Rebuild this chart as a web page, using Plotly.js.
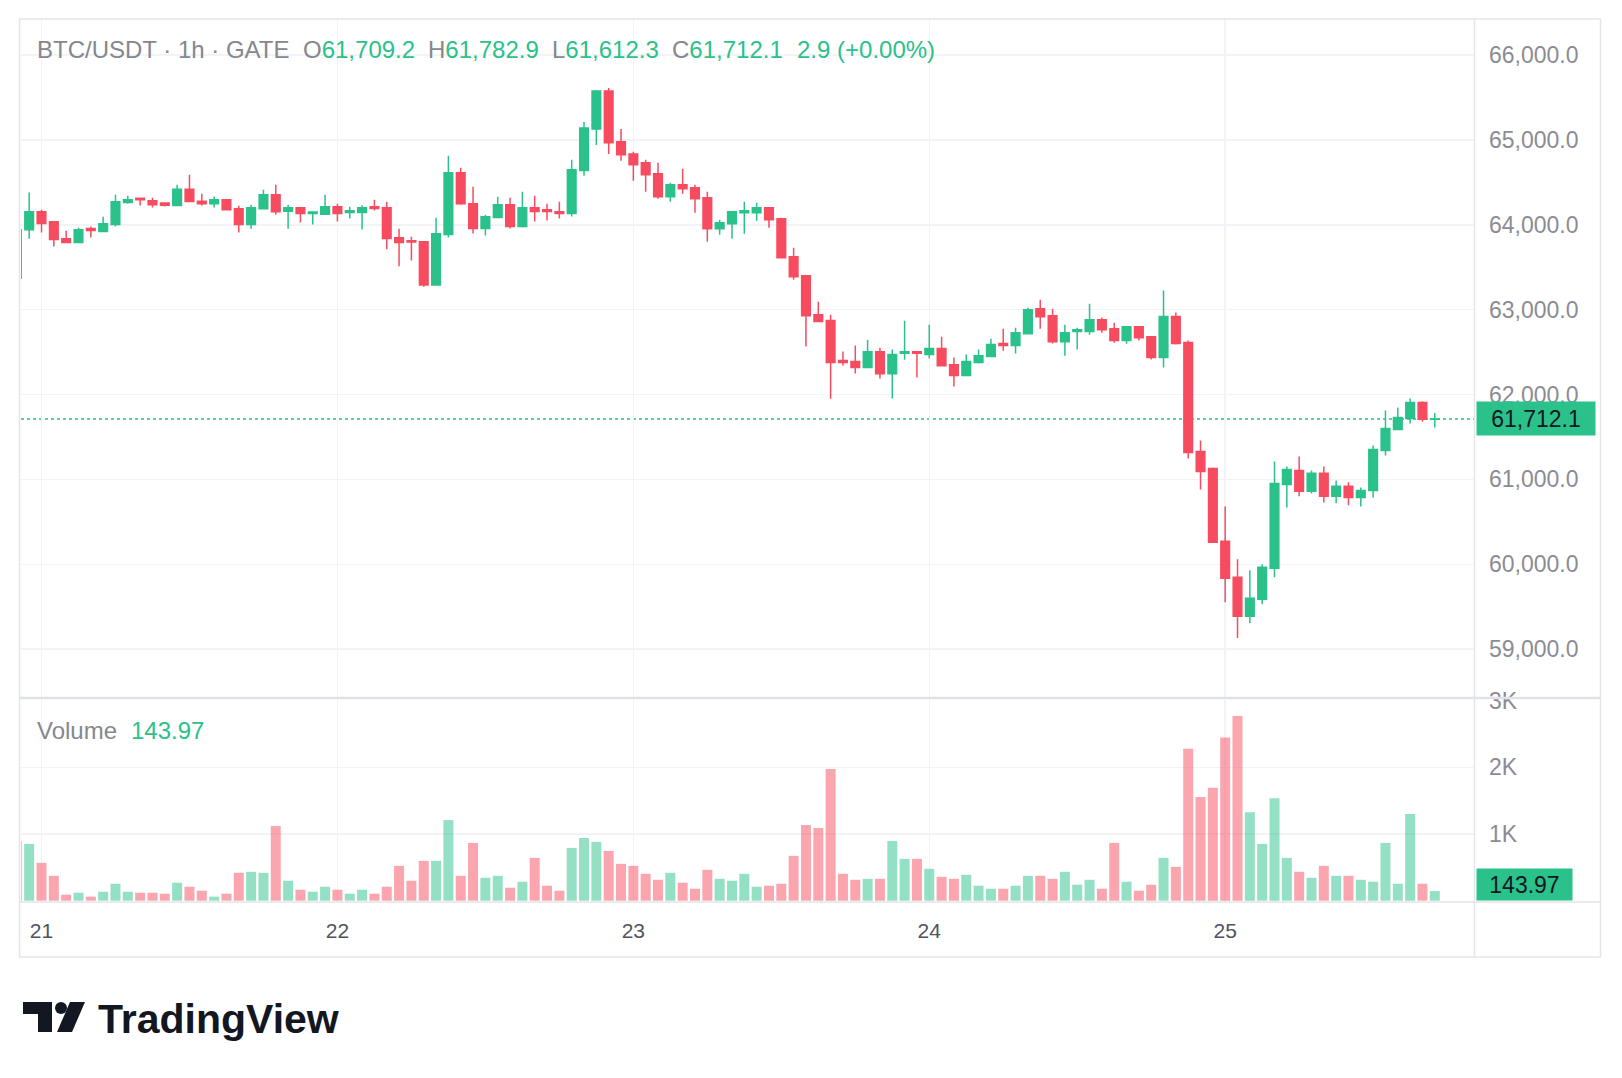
<!DOCTYPE html>
<html>
<head>
<meta charset="utf-8">
<script src="https://cdn.plot.ly/plotly-3.0.1.min.js"></script>
<style>
  html, body { margin: 0; padding: 0; background: #ffffff; }
  #chart { width: 1622px; height: 1078px; }
</style>
</head>
<body>
<div id="chart"></div>
<script>
// ---------- DATA ----------
// hourly candles, first one starts 20th 22:00
const startTime = '2024-06-20T22:00:00';
const opens = [63370,63940,64153,64035,63835,63792,63956,63921,64004,64262,64313,64282,64255,64227,64419,64278,64247,64294,64188,64004,64188,64353,64160,64200,64133,64125,64212,64145,64145,64212,64200,63847,63812,63800,63290,63886,64612,64247,63957,64086,64235,63980,64200,64176,64153,64133,64639,65129,65577,64977,64835,64729,64600,64329,64471,64435,64318,63953,64012,64141,64141,64200,64071,63624,63400,62941,62871,62400,62388,62317,62505,62246,62486,62505,62470,62541,62352,62223,62376,62447,62600,62576,62717,63011,62929,62623,62741,62741,62882,62776,62635,62799,62682,62435,62918,62612,61329,61129,60270,59847,59388,59588,59953,60941,61106,60859,61071,60800,60918,60788,60870,61341,61588,61718,61906,61709.2];
const highs = [63960,64380,64176,64035,63929,63964,63980,64094,64353,64341,64318,64317,64266,64470,64588,64364,64333,64298,64223,64235,64411,64470,64235,64205,64152,64353,64247,64212,64231,64294,64271,63953,63859,63805,64082,64812,64671,64447,64118,64329,64318,64388,64341,64247,64271,64765,65212,65588,65612,65129,64859,64765,64729,64494,64659,64471,64388,64059,64153,64271,64259,64200,64082,63729,63400,63094,62941,62506,62576,62646,62552,62529,62870,62505,62823,62682,62435,62470,62529,62658,62776,62788,63023,63117,63011,62823,62788,63070,62906,62846,62799,62805,62685,63224,62965,62635,61459,61141,60682,60059,59929,60000,61212,61153,61270,61106,61153,60988,60965,60906,61400,61812,61847,61953,61920,61782.9];
const lows = [63350,63835,63909,63745,63790,63790,63851,63915,63980,64247,64227,64204,64215,64225,64270,64227,64204,64176,63909,63953,64185,64121,63953,64027,64004,64114,64039,64074,63945,64169,63710,63510,63580,63270,63280,63851,64235,63898,63874,64080,63957,63969,64039,64051,64074,64098,64576,64941,64835,64753,64518,64388,64306,64271,64365,64141,63800,63882,63835,63894,64047,63965,63612,63353,62565,62859,61950,62341,62247,62317,62188,61952,62411,62199,62423,62329,62093,62223,62364,62447,62517,62482,62717,62776,62600,62458,62529,62705,62729,62611,62599,62635,62412,62318,62588,61247,60882,60259,59553,59130,59306,59529,59847,60670,60800,60835,60729,60718,60694,60682,60788,61282,61588,61659,61680,61612.3];
const closes = [63940,64153,64015,63827,63792,63941,63933,64011,64270,64294,64294,64235,64231,64419,64274,64247,64294,64176,64004,64200,64353,64153,64200,64133,64149,64212,64133,64165,64200,64192,63839,63792,63796,63290,63894,64612,64247,63957,64094,64235,63980,64200,64157,64157,64133,64647,65141,65577,64965,64824,64706,64588,64329,64471,64424,64306,63953,64023,64153,64165,64200,64059,63612,63388,62929,62859,62376,62376,62317,62505,62246,62470,62505,62486,62541,62340,62223,62388,62458,62588,62576,62729,62999,62917,62623,62729,62764,62882,62764,62635,62799,62670,62435,62918,62600,61318,61094,60259,59835,59388,59600,59964,60953,61118,60859,61071,60800,60918,60788,60870,61353,61600,61729,61906,61709,61712.1];
const volumes = [896,851,567,373,90,119,60,134,254,134,119,119,104,269,209,149,60,104,418,433,418,1119,299,164,134,209,164,104,164,104,209,522,299,597,597,1209,373,866,343,373,194,284,642,224,149,791,940,881,746,552,522,403,313,418,269,179,463,328,299,403,209,224,254,672,1134,1090,1975,403,313,328,328,896,627,627,478,358,328,388,224,179,179,224,373,373,328,433,239,313,179,866,284,149,239,642,507,2277,1554,1692,2446,2769,1328,851,1538,642,433,343,522,373,373,313,284,866,254,1299,254,143.97];

const dayTickTimes = ['2024-06-21T00:00:00','2024-06-22T00:00:00','2024-06-23T00:00:00','2024-06-24T00:00:00','2024-06-25T00:00:00'];
const dayTickText = ['21','22','23','24','25'];
const priceTicks = [59000,60000,61000,62000,63000,64000,65000,66000];
const priceTickText = ['59,000.0','60,000.0','61,000.0','62,000.0','63,000.0','64,000.0','65,000.0','66,000.0'];
const volTicks = [1000,2000,3000];
const volTickText = ['1K','2K','3K'];

const symbolText = 'BTC/USDT · 1h · GATE';
const ohlcLabels = ['O','H','L','C'];
const lastOHLC = ['61,709.2','61,782.9','61,612.3','61,712.1'];
const changeText = '2.9 (+0.00%)';
const volumeTitle = 'Volume';
const lastVolumeText = '143.97';
const lastPriceText = '61,712.1';

// ---------- STYLE ----------
const UP = '#2AC18A', DOWN = '#F74C60';
const UP_V = 'rgba(42,193,138,0.5)', DOWN_V = 'rgba(247,76,96,0.5)';
const GRID = '#F2F3F6', FRAME = '#E3E5EA';
const FONT = 'Liberation Sans, Arial, sans-serif';

// ---------- BUILD ----------
const HOUR = 3600000;
const t0 = new Date(startTime + 'Z').getTime();
function iso(ms){ return new Date(ms).toISOString().slice(0,19).replace('T',' '); }
const times = opens.map((_, k) => iso(t0 + k*HOUR));
const volColors = closes.map((c, k) => c >= opens[k] ? UP_V : DOWN_V);

const W = 1622, H = 1078;
const M = {l: 21, r: 148, t: 19, b: 176};
const PW = W - M.l - M.r, PH = H - M.t - M.b;
const px = x => (x - M.l) / PW;
const py = y => (M.t + PH - y) / PH;

const candles = {
  type: 'candlestick', x: times, open: opens, high: highs, low: lows, close: closes,
  xaxis: 'x', yaxis: 'y',
  increasing: {line: {color: UP, width: 1.5}, fillcolor: UP},
  decreasing: {line: {color: DOWN, width: 1.5}, fillcolor: DOWN},
  whiskerwidth: 0, hoverinfo: 'skip', showlegend: false
};
const vol = {
  type: 'bar', x: times, y: volumes, xaxis: 'x', yaxis: 'y2',
  marker: {color: volColors, line: {width: 0}}, hoverinfo: 'skip', showlegend: false
};

const xr0 = iso(t0 + 0.337*HOUR), xr1 = iso(t0 + 118.18*HOUR);
const lastClose = closes[closes.length-1];
const axFont = {family: FONT, size: 23, color: '#8A8C94'};
const HFS = 24;

function hdr(x, text, color){
  return {xref:'paper', yref:'paper', x: px(x), y: py(50), xanchor:'left', yanchor:'middle',
    text: text, showarrow:false, font:{family: FONT, size: HFS, color: color}};
}
const annotations = [
  hdr(35, symbolText, '#85878E'),
  hdr(301, ohlcLabels[0] + '<span style="color:'+UP+'">' + lastOHLC[0] + '</span>', '#85878E'),
  hdr(426, ohlcLabels[1] + '<span style="color:'+UP+'">' + lastOHLC[1] + '</span>', '#85878E'),
  hdr(550, ohlcLabels[2] + '<span style="color:'+UP+'">' + lastOHLC[2] + '</span>', '#85878E'),
  hdr(670, ohlcLabels[3] + '<span style="color:'+UP+'">' + lastOHLC[3] + '</span>', '#85878E'),
  hdr(795, changeText, UP),
  {xref:'paper', yref:'paper', x: px(35), y: py(730), xanchor:'left', yanchor:'middle',
   text: volumeTitle, showarrow:false, font:{family: FONT, size: HFS, color:'#85878E'}},
  {xref:'paper', yref:'paper', x: px(129), y: py(730), xanchor:'left', yanchor:'middle',
   text: lastVolumeText, showarrow:false, font:{family: FONT, size: HFS, color: UP}},
  {xref:'paper', yref:'y', x: px(1476), y: lastClose, xanchor:'left', yanchor:'middle',
   text: lastPriceText, showarrow:false, bgcolor: UP, width: 114, height: 29, borderpad: 2,
   font:{family: FONT, size: 23, color:'#131722'}},
  {xref:'paper', yref:'paper', x: px(1476), y: py(884.5), xanchor:'left', yanchor:'middle',
   text: lastVolumeText, showarrow:false, bgcolor: UP, width: 91, height: 27, borderpad: 2,
   font:{family: FONT, size: 23, color:'#131722'}},
  {xref:'paper', yref:'paper', x: px(96), y: py(1019), xanchor:'left', yanchor:'middle',
   text: '<b>TradingView</b>', showarrow:false, font:{family: FONT, size: 41, color:'#131722'}}
];

function line(x0,y0,x1,y1,color,width,dash){
  return {type:'line', xref:'paper', yref:'paper', x0:px(x0), y0:py(y0), x1:px(x1), y1:py(y1),
    line:{color:color, width:width, dash: dash || 'solid'}, layer:'above'};
}
function path(pts){
  return 'M' + pts.map(p => px(p[0]) + ',' + py(p[1])).join(' L') + ' Z';
}
const shapes = [
  {type:'line', xref:'paper', yref:'y', x0:0, x1:1, y0:lastClose, y1:lastClose,
   line:{color:UP, width:1.5, dash:'dot'}, layer:'below'},
  line(19,19,1601,19,FRAME,1.5),
  line(19,957,1601,957,FRAME,1.5),
  line(19.5,19,19.5,957,FRAME,1.5),
  line(1600.5,19,1600.5,957,FRAME,1.5),
  line(1474.5,19,1474.5,957,FRAME,1.5),
  line(19,902,1601,902,FRAME,1.5),
  line(19,698,1601,698,'#E0E2E7',2.5),
  // TradingView logo mark
  {type:'path', xref:'paper', yref:'paper', path: path([[23,1002],[52,1002],[52,1032],[38,1032],[38,1014],[23,1014]]),
   fillcolor:'#131722', line:{width:0}},
  {type:'circle', xref:'paper', yref:'paper', x0:px(55), x1:px(67), y0:py(1002), y1:py(1014),
   fillcolor:'#131722', line:{width:0}},
  {type:'path', xref:'paper', yref:'paper', path: path([[70,1002],[85,1002],[72,1032],[57,1032]]),
   fillcolor:'#131722', line:{width:0}}
];

const layout = {
  width: W, height: H, margin: M,
  paper_bgcolor:'#ffffff', plot_bgcolor:'#ffffff',
  showlegend:false, dragmode:false,
  boxgap: 0.3, boxgroupgap: 0, bargap: 0.19,
  xaxis: {type:'date', range:[xr0, xr1], anchor:'y2', rangeslider:{visible:false},
    tickmode:'array', tickvals: dayTickTimes, ticktext: dayTickText,
    showgrid:true, gridcolor: GRID, gridwidth:1.5, zeroline:false, showline:false,
    ticks:'', ticklabelstandoff: 14,
    tickfont:{family: FONT, size: 21, color:'#50535E'}},
  yaxis: {domain:[py(698)+0.001, 1], range:[58435, 66424], side:'right', anchor:'x',
    tickmode:'array', tickvals: priceTicks, ticktext: priceTickText,
    showgrid:true, gridcolor: GRID, gridwidth:1.5, zeroline:false, showline:false,
    ticks:'', ticklabelstandoff: 14, tickfont: axFont},
  yaxis2: {domain:[0, py(700)], range:[-20, 3010], side:'right', anchor:'x',
    tickmode:'array', tickvals: volTicks, ticktext: volTickText,
    showgrid:true, gridcolor: GRID, gridwidth:1.5, zeroline:false, showline:false,
    ticks:'', ticklabelstandoff: 14, tickfont: axFont},
  annotations: annotations, shapes: shapes
};

Plotly.newPlot('chart', [vol, candles], layout, {staticPlot:true, displayModeBar:false});
</script>
</body>
</html>
